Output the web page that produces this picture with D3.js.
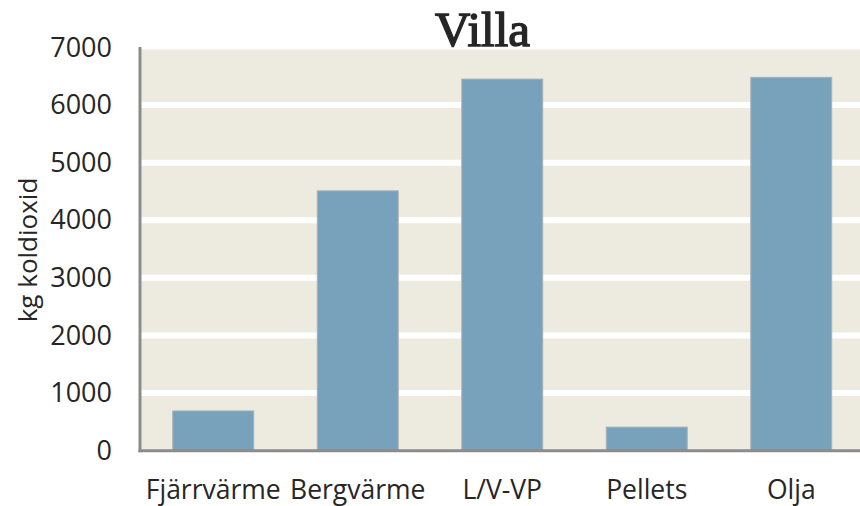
<!DOCTYPE html>
<html>
<head>
<meta charset="utf-8">
<script src="https://cdn.jsdelivr.net/npm/d3@7/dist/d3.min.js"></script>
<style>
  body { margin: 0; background: #fff; }
  svg { display: block; }
  text { font-family: "Open Sans", sans-serif; fill: #262626; }
</style>
</head>
<body>
<svg id="chart" width="860" height="506"></svg>
<script>
// Data
var categories = ['Fjärrvärme', 'Bergvärme', 'L/V-VP', 'Pellets', 'Olja'];
var values = [690, 4510, 6450, 410, 6480];
var yTicks = [0, 1000, 2000, 3000, 4000, 5000, 6000, 7000];
var title = 'Villa';
var yLabel = 'kg koldioxid';

var width = 860, height = 506;
var margin = { left: 141, top: 47.4, bottom: 55.3 };
var plotRight = margin.left + 5 * 144.5;

var svg = d3.select('#chart');

var x = d3.scaleBand()
    .domain(categories)
    .range([margin.left, plotRight])
    .paddingInner(0.44)
    .paddingOuter(0.22);

var y = d3.scaleLinear()
    .domain([0, 7000])
    .range([height - margin.bottom, margin.top]);

// fons de la zona de dibuix
svg.append('rect')
    .attr('x', margin.left)
    .attr('y', y(7000) + 2)
    .attr('width', width - margin.left)
    .attr('height', y(0) - y(7000) - 2)
    .attr('fill', '#edeae0');

// linies de la graella
svg.selectAll('line.grid')
    .data(yTicks.filter(function (d) { return d > 0 && d < 7000; }))
    .enter().append('line')
    .attr('class', 'grid')
    .attr('x1', margin.left).attr('x2', width)
    .attr('y1', function (d) { return y(d); })
    .attr('y2', function (d) { return y(d); })
    .attr('stroke', '#ffffff')
    .attr('stroke-width', 6);

// barres
svg.selectAll('rect.bar')
    .data(values)
    .enter().append('rect')
    .attr('class', 'bar')
    .attr('x', function (d, i) { return x(categories[i]); })
    .attr('y', function (d) { return y(d); })
    .attr('width', x.bandwidth())
    .attr('height', function (d) { return y(0) - y(d); })
    .attr('fill', '#78a1bb')
    .attr('stroke', '#a9b1b4')
    .attr('stroke-width', 1);

// eixos
var yAxis = d3.axisLeft(y).tickValues(yTicks).tickFormat(d3.format('d')).tickSize(0).tickPadding(29);
var gy = svg.append('g')
    .attr('transform', 'translate(' + margin.left + ',0)')
    .call(yAxis);
gy.select('.domain').remove();
gy.selectAll('text')
    .style('font-family', '"Open Sans", sans-serif')
    .style('font-size', '27px')
    .attr('fill', '#262626');

var xAxis = d3.axisBottom(x).tickSize(0).tickPadding(29);
var gx = svg.append('g')
    .attr('transform', 'translate(0,' + y(0) + ')')
    .call(xAxis);
gx.select('.domain').remove();
gx.selectAll('text')
    .style('font-family', '"Open Sans", sans-serif')
    .style('font-size', '26.5px')
    .attr('fill', '#262626');

svg.append('line')
    .attr('x1', margin.left - 1).attr('x2', margin.left - 1)
    .attr('y1', y(7000) - 0.5).attr('y2', y(0) + 1.5)
    .attr('stroke', '#8c8c8c').attr('stroke-width', 3);
svg.append('line')
    .attr('x1', margin.left - 2.5).attr('x2', width)
    .attr('y1', y(0)).attr('y2', y(0))
    .attr('stroke', '#8c8c8c').attr('stroke-width', 3);

// titol
svg.append('text')
    .attr('x', 482.5)
    .attr('y', 46)
    .attr('text-anchor', 'middle')
    .style('font-family', '"Liberation Serif", serif')
    .style('font-size', '49px')
    .style('stroke', '#262626')
    .style('stroke-width', '1.4px')
    .text(title);

// etiqueta eix y
svg.append('text')
    .attr('transform', 'translate(37,250) rotate(-90)')
    .attr('text-anchor', 'middle')
    .style('font-size', '26px')
    .text(yLabel);
</script>
</body>
</html>
